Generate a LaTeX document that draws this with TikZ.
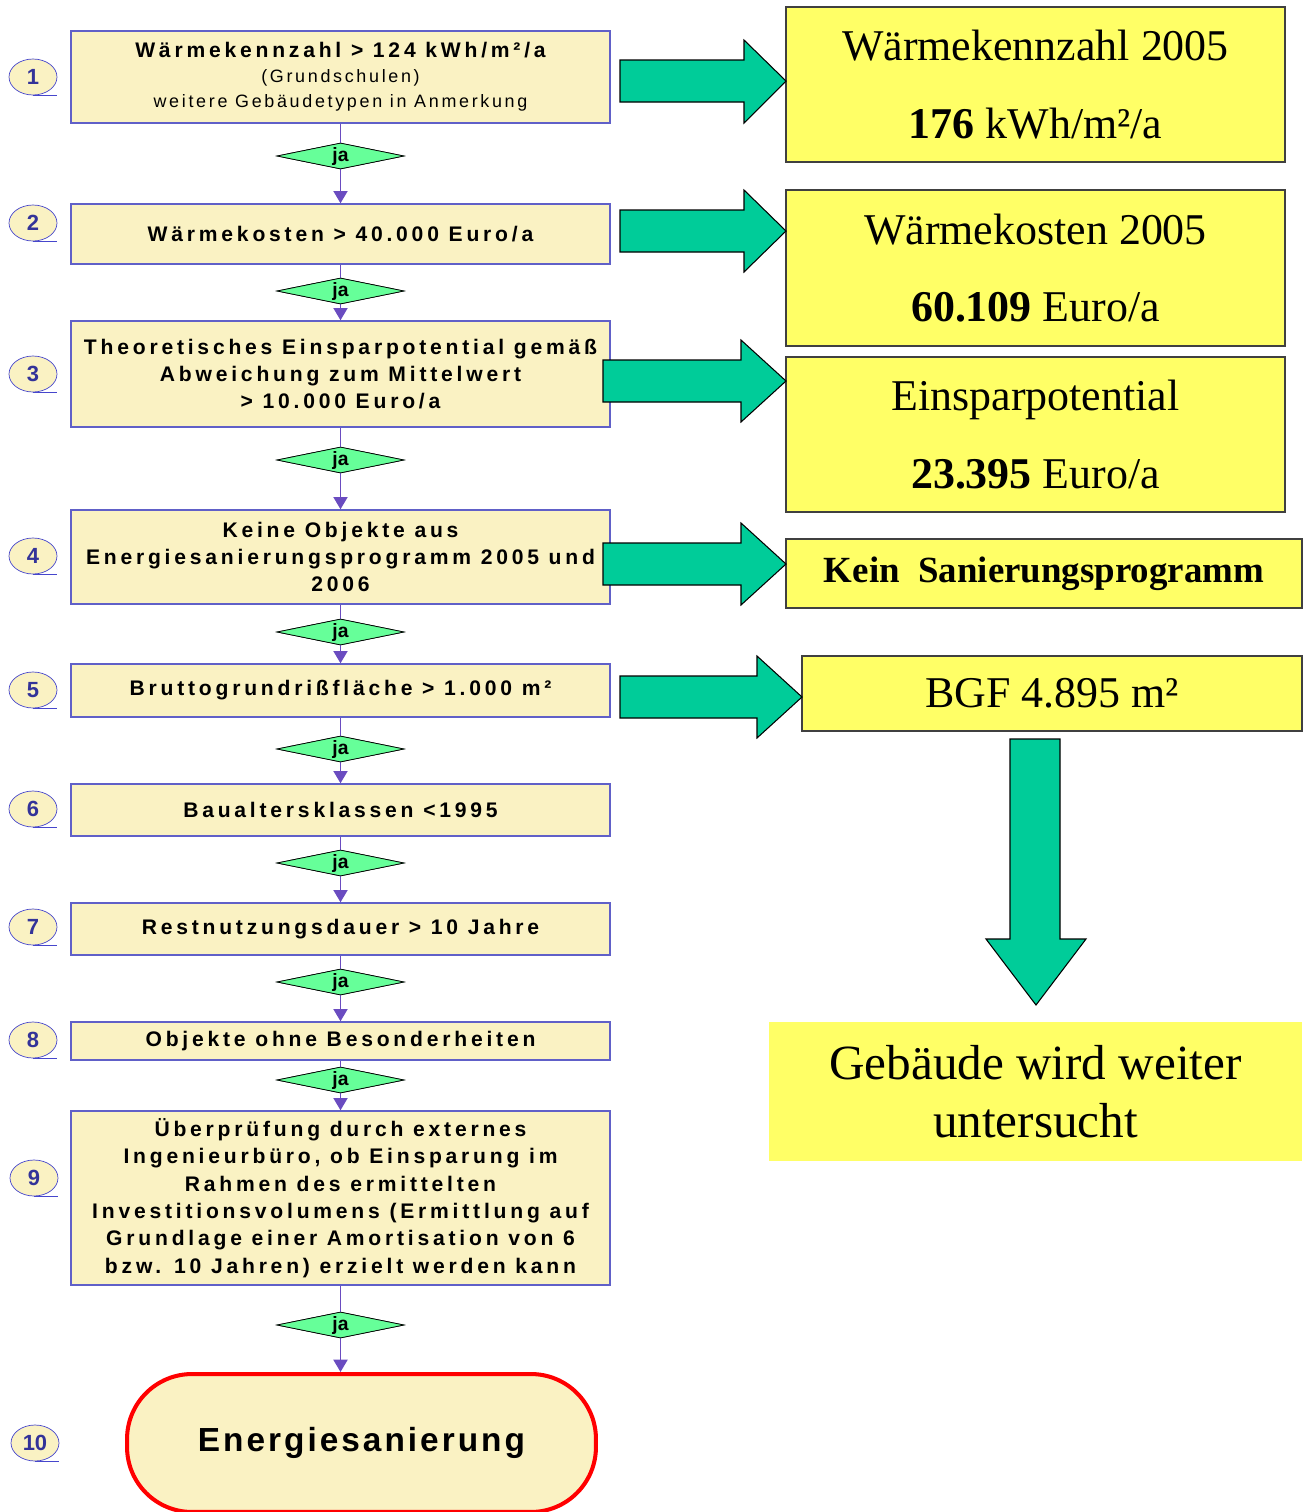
\documentclass[tikz,border=0pt]{standalone}
\usepackage{fontspec}
\setmainfont{Liberation Serif}
\setsansfont{Liberation Sans}
\newfontfamily\boxfont[LetterSpace=18]{Liberation Sans}
\newfontfamily\notefont[LetterSpace=15]{Liberation Sans}
\newfontfamily\termfont[LetterSpace=9]{Liberation Sans}
\usepackage{tikz}
\usetikzlibrary{shapes.geometric,arrows.meta,positioning,calc}
\definecolor{cream}{RGB}{250,242,195}
\definecolor{boxline}{RGB}{96,96,200}
\definecolor{flowline}{RGB}{106,76,192}
\definecolor{jagreen}{RGB}{102,255,153}
\definecolor{numline}{RGB}{70,70,204}
\definecolor{numtext}{RGB}{51,51,153}
\definecolor{resyellow}{RGB}{255,255,102}
\definecolor{resline}{RGB}{64,64,64}
\definecolor{arrowgreen}{RGB}{0,204,153}
\tikzset{
block/.style = {draw=boxline, fill=cream, rectangle, line width=0.8pt, minimum width=10.78cm, align=center, inner sep=0pt, font=\boxfont\bfseries\fontsize{12}{15.6}\selectfont},
dec/.style = {diamond, draw, fill=jagreen, minimum width=2.54cm, minimum height=0.52cm, shape aspect=4.9, inner sep=0pt, font=\sffamily\bfseries\fontsize{11}{12}\selectfont},
num/.style = {ellipse, draw=numline, fill=cream, minimum width=0.96cm, minimum height=0.72cm, inner sep=0pt, text=numtext, font=\sffamily\bfseries\fontsize{12.5}{14}\selectfont},
numbar/.style = {draw=numline, line width=0.6pt},
result/.style = {draw=resline, fill=resyellow, rectangle, line width=1.2pt, align=center, inner sep=0pt, font=\fontsize{25}{44}\selectfont},
term/.style = {draw=red, fill=cream, rectangle, rounded corners=1.3cm, line width=2.3pt, minimum width=9.38cm, minimum height=2.76cm, font=\termfont\bfseries\fontsize{19}{22}\selectfont},
flow/.style = {draw=flowline, line width=1pt, ->},
bigarrow/.style = {draw=black, fill=arrowgreen, line width=0.6pt}
}
\begin{document}
\begin{tikzpicture}[x=0.02cm, y=-0.02cm, >={Triangle[width=8pt,length=7pt]}]
  \useasboundingbox (0,0) rectangle (1306,1512);

  % Prüfschritte
  \node [block, minimum height=1.84cm, font=\boxfont\bfseries\fontsize{12}{14.2}\selectfont] (b1) at (340.5,77)
    {Wärmekennzahl > 124 kWh/m²/a\\
     {\notefont\mdseries\fontsize{10.2}{14.2}\selectfont (Grundschulen)}\\
     {\notefont\mdseries\fontsize{10.2}{14.2}\selectfont weitere Gebäudetypen in Anmerkung}};
  \node [block, minimum height=1.2cm]  (b2) at (340.5,234)  {Wärmekosten > 40.000 Euro/a};
  \node [block, minimum height=2.12cm] (b3) at (340.5,374)
    {Theoretisches Einsparpotential gemäß\\Abweichung zum Mittelwert\\> 10.000 Euro/a};
  \node [block, minimum height=1.88cm] (b4) at (340.5,557)
    {Keine Objekte aus\\Energiesanierungsprogramm 2005 und\\2006};
  \node [block, minimum height=1.06cm] (b5) at (340.5,690.5) {Bruttogrundrißfläche > 1.000 m²};
  \node [block, minimum height=1.04cm] (b6) at (340.5,810)   {Baualtersklassen <1995};
  \node [block, minimum height=1.04cm] (b7) at (340.5,929)   {Restnutzungsdauer > 10 Jahre};
  \node [block, minimum height=0.76cm] (b8) at (340.5,1041)  {Objekte ohne Besonderheiten};
  \node [block, minimum height=3.48cm] (b9) at (340.5,1198)
    {Überprüfung durch externes\\Ingenieurbüro, ob Einsparung im\\Rahmen des ermittelten\\Investitionsvolumens (Ermittlung auf\\Grundlage einer Amortisation von 6\\bzw. 10 Jahren) erzielt werden kann};
  \node [term] (ende) at (361.5,1443) {Energiesanierung};

  % ja-Rauten
  \node [dec] (d1) at (340.5,156)  {ja};
  \node [dec] (d2) at (340.5,291)  {ja};
  \node [dec] (d3) at (340.5,460)  {ja};
  \node [dec] (d4) at (340.5,632)  {ja};
  \node [dec] (d5) at (340.5,749)  {ja};
  \node [dec] (d6) at (340.5,863)  {ja};
  \node [dec] (d7) at (340.5,982)  {ja};
  \node [dec] (d8) at (340.5,1080) {ja};
  \node [dec] (d9) at (340.5,1325) {ja};

  \foreach \i/\j in {1/2,2/3,3/4,4/5,5/6,6/7,7/8,8/9}
    \draw [flow] (b\i) -- (d\i) -- (b\j);
  \draw [flow] (b9) -- (d9) -- (d9 |- ende.north);
  \foreach \i in {1,...,9}
    \node [dec] at (d\i) {ja};

  % Nummern
  \node [num] (n1)  at (33,77)    {1};
  \node [num] (n2)  at (33,223)   {2};
  \node [num] (n3)  at (33,374)   {3};
  \node [num] (n4)  at (33,556)   {4};
  \node [num] (n5)  at (33,690)   {5};
  \node [num] (n6)  at (33,809)   {6};
  \node [num] (n7)  at (33,927)   {7};
  \node [num] (n8)  at (33,1040)  {8};
  \node [num] (n9)  at (34,1178)  {9};
  \node [num] (n10) at (35,1443)  {10};
  \foreach \n in {1,...,10}
    \draw [numbar] (n\n.south) -- (n\n.south -| n\n.east);

  % Ergebnisse
  \node [result, minimum width=9.98cm, minimum height=3.1cm] (r1) at (1035.5,84.5)
    {Wärmekennzahl 2005\\\textbf{176} kWh/m²/a};
  \node [result, minimum width=9.98cm, minimum height=3.12cm] (r2) at (1035.5,268)
    {Wärmekosten 2005\\\textbf{60.109} Euro/a};
  \node [result, minimum width=9.98cm, minimum height=3.1cm] (r3) at (1035.5,434.5)
    {Einsparpotential\\\textbf{23.395} Euro/a};
  \node [result, minimum width=10.32cm, minimum height=1.38cm, font=\bfseries\fontsize{21}{25}\selectfont] (r4) at (1044,573.5)
    {Kein\ \ Sanierungsprogramm};
  \node [result, minimum width=10cm, minimum height=1.5cm] (r5) at (1052,693.5) {BGF 4.895 m²};
  \node [result, draw=none, minimum width=10.66cm, minimum height=2.78cm, font=\fontsize{28}{33}\selectfont] (r6) at (1035.5,1091.5)
    {Gebäude wird weiter\\untersucht};

  % Blockpfeile
  \draw [bigarrow] (620,60) -- (744,60) -- (744,40) -- (786,81) -- (744,123) -- (744,102) -- (620,102) -- cycle;
  \draw [bigarrow] (620,210) -- (744,210) -- (744,190) -- (786,231) -- (744,272) -- (744,252) -- (620,252) -- cycle;
  \draw [bigarrow] (603,360) -- (741,360) -- (741,340) -- (786,381) -- (741,422) -- (741,402) -- (603,402) -- cycle;
  \draw [bigarrow] (603,543) -- (741,543) -- (741,523) -- (786,564) -- (741,605) -- (741,585) -- (603,585) -- cycle;
  \draw [bigarrow] (620,676) -- (757,676) -- (757,656) -- (802,697) -- (757,738) -- (757,718) -- (620,718) -- cycle;
  \draw [bigarrow] (1010,739) -- (1060,739) -- (1060,939) -- (1086,939) -- (1036,1005) -- (986,939) -- (1010,939) -- cycle;
\end{tikzpicture}
\end{document}
